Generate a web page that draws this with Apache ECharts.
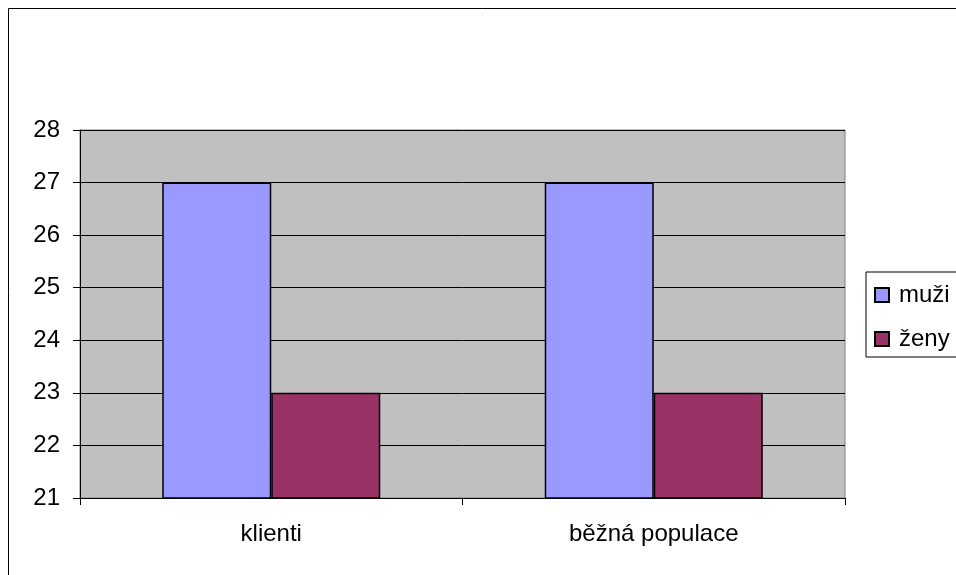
<!DOCTYPE html>
<html>
<head>
<meta charset="utf-8">
<script src="https://cdn.jsdelivr.net/npm/echarts@6/dist/echarts.min.js"></script>
<style>
html,body{margin:0;padding:0;background:#fff;}
#chart{width:956px;height:575px;}
</style>
</head>
<body>
<div id="chart"></div>
<script>
// Categories and series values
const categories = ['klienti', 'běžná populace'];
const muzi = [27, 27];
const zeny = [23, 23];
const seriesNames = ['muži', 'ženy'];
const yTicks = { min: 21, max: 28, step: 1 };

const FONT = '"Liberation Sans", Arial, sans-serif';

const chart = echarts.init(document.getElementById('chart'), null, { renderer: 'canvas' });
chart.setOption({
  backgroundColor: '#ffffff',
  animation: false,
  textStyle: { fontFamily: FONT, color: '#000' },
  graphic: [{
    // outer chart frame (right and bottom edges run past the canvas)
    type: 'rect',
    shape: { x: 8.5, y: 8.5, width: 1000, height: 1000 },
    style: { fill: 'none', stroke: '#000', lineWidth: 1 },
    z: -1
  }],
  grid: {
    left: 80, top: 130, width: 765, height: 368,
    show: true, backgroundColor: '#C0C0C0', borderColor: '#808080', borderWidth: 1
  },
  legend: {
    orient: 'vertical',
    left: 866, top: 272,
    itemWidth: 14, itemHeight: 14, itemGap: 20,
    padding: [11, 30, 6, 8],
    borderColor: '#000', borderWidth: 1,
    backgroundColor: '#fff',
    icon: 'rect',
    textStyle: { fontFamily: FONT, fontSize: 24, color: '#000', padding: [0, 0, 0, 5] },
    data: seriesNames
  },
  xAxis: {
    type: 'category',
    data: categories,
    axisLine: { lineStyle: { color: '#000', width: 1 } },
    axisTick: { show: true, length: 7, lineStyle: { color: '#000' } },
    axisLabel: { fontFamily: FONT, fontSize: 24, color: '#000', margin: 24 }
  },
  yAxis: {
    type: 'value',
    min: yTicks.min, max: yTicks.max, interval: yTicks.step,
    axisLine: { show: true, lineStyle: { color: '#000', width: 1 } },
    axisTick: { show: true, length: 7, lineStyle: { color: '#000' } },
    axisLabel: { fontFamily: FONT, fontSize: 24, color: '#000', margin: 20 },
    splitLine: { show: true, lineStyle: { color: '#000', width: 1 } }
  },
  series: [{
    name: seriesNames[0],
    type: 'bar',
    data: muzi,
    barCategoryGap: '43%',
    barGap: '0%',
    itemStyle: { color: '#9999FF', borderColor: '#000', borderWidth: 1.5 }
  }, {
    name: seriesNames[1],
    type: 'bar',
    data: zeny,
    itemStyle: { color: '#993366', borderColor: '#000', borderWidth: 1.5 }
  }]
});
</script>
</body>
</html>
